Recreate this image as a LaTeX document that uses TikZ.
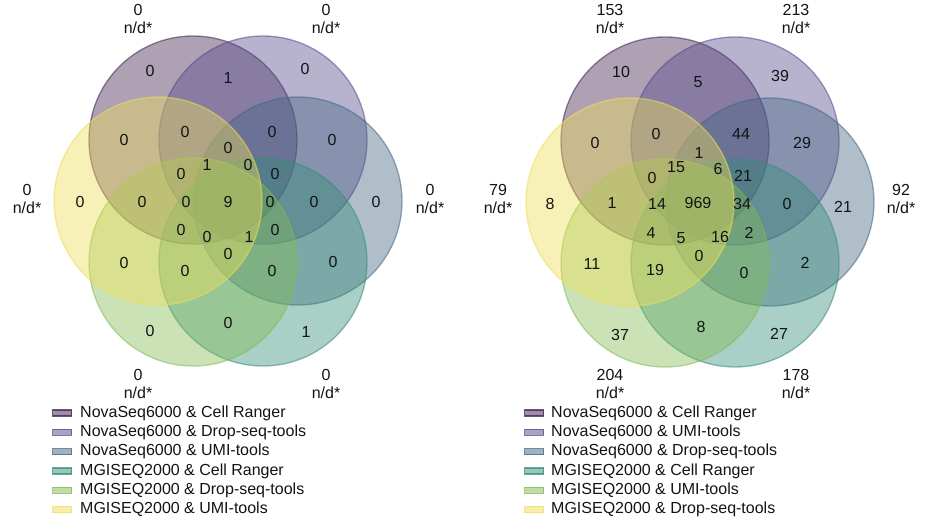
\documentclass[tikz,border=0pt]{standalone}
\usepackage{fontspec}
\setmainfont{Liberation Sans}
\definecolor{cA}{RGB}{62,32,78}
\definecolor{cB}{RGB}{84,74,140}
\definecolor{cC}{RGB}{68,102,130}
\definecolor{cD}{RGB}{52,142,120}
\definecolor{cE}{RGB}{130,186,82}
\definecolor{cF}{RGB}{238,222,88}
\definecolor{txt}{RGB}{20,20,20}
\begin{document}
\begin{tikzpicture}[x=1pt,y=-1pt,
  font=\fontsize{16}{18}\selectfont, text=txt,
  setc/.style={circle, minimum size=208pt, inner sep=0pt, fill=#1, fill opacity=0.42, draw=#1, draw opacity=0.55, line width=1.3pt},
  num/.style={inner sep=0pt},
  outl/.style={align=center, inner sep=0pt},
  sw/.style={minimum width=19pt, minimum height=6pt, inner sep=0pt, fill=#1, fill opacity=0.5, draw=#1, draw opacity=0.75, line width=1.2pt},
  leg/.style={anchor=west, inner sep=0pt}]
\useasboundingbox (0,0) rectangle (926,520);
\fill[white] (0,0) rectangle (926,520);
% ---------- left diagram ----------
\node[setc=cA] (L1) at (193,140) {};
\node[setc=cB] (L2) at (263,140) {};
\node[setc=cC] (L3) at (298,201) {};
\node[setc=cD] (L4) at (263,262) {};
\node[setc=cE] (L5) at (193,262) {};
\node[setc=cF] (L6) at (158,201) {};
\node[outl] (lo1) at (138,19) {0\\n/d*};
\node[outl] (lo2) at (326,19) {0\\n/d*};
\node[outl] (lo3) at (430,199) {0\\n/d*};
\node[outl] (lo4) at (326,384) {0\\n/d*};
\node[outl] (lo5) at (138,384) {0\\n/d*};
\node[outl] (lo6) at (27,199) {0\\n/d*};
\foreach \x/\y/\t [count=\i] in {150/71/0, 228/78/1, 305/69/0, 124/140/0, 185/132/0, 272/132/0, 332/140/0,
  228/148/0, 207/165/1, 248/165/0, 181/174/0, 275/174/0, 80/202/0, 142/202/0, 186/202/0, 228/202/9,
  270/202/0, 314/202/0, 376/202/0, 181/230/0, 207/237/0, 249/237/1, 275/230/0, 228/254/0,
  124/263/0, 185/271/0, 272/271/0, 333/262/0, 150/331/0, 228/323/0, 306/332/1}
  \node[num] (ln\i) at (\x,\y) {\t};
% ---------- right diagram ----------
\node[setc=cA] (R1) at (665,141) {};
\node[setc=cB] (R2) at (735,141) {};
\node[setc=cC] (R3) at (770,202) {};
\node[setc=cD] (R4) at (735,263) {};
\node[setc=cE] (R5) at (665,263) {};
\node[setc=cF] (R6) at (630,202) {};
\node[outl] (ro1) at (610,19) {153\\n/d*};
\node[outl] (ro2) at (796,19) {213\\n/d*};
\node[outl] (ro3) at (901,199) {92\\n/d*};
\node[outl] (ro4) at (796,384) {178\\n/d*};
\node[outl] (ro5) at (610,384) {204\\n/d*};
\node[outl] (ro6) at (498,199) {79\\n/d*};
\foreach \x/\y/\t [count=\i] in {621/72/10, 698/82/5, 780/76/39, 595/143/0, 656/134/0, 741/134/44, 802/143/29,
  699/153/1, 676/167/15, 718/169/6, 652/178/0, 743/176/21, 550/204/8, 612/203/1, 657/204/14, 698/203/969,
  742/204/34, 787/204/0, 843/207/21, 651/233/4, 681/238/5, 720/237/16, 749/233/2, 699/256/0,
  592/264/11, 655/270/19, 744/273/0, 805/263/2, 620/335/37, 701/327/8, 779/334/27}
  \node[num] (rn\i) at (\x,\y) {\t};
% ---------- legends ----------
\foreach \c/\t [count=\i] in {cA/NovaSeq6000 \& Cell Ranger, cB/NovaSeq6000 \& Drop-seq-tools,
  cC/NovaSeq6000 \& UMI-tools, cD/MGISEQ2000 \& Cell Ranger, cE/MGISEQ2000 \& Drop-seq-tools,
  cF/MGISEQ2000 \& UMI-tools}{
  \node[sw=\c] (ls\i) at (62,{413+19.3*(\i-1)}) {};
  \node[leg] (lt\i) at (80,{413+19.3*(\i-1)}) {\t};
}
\foreach \c/\t [count=\i] in {cA/NovaSeq6000 \& Cell Ranger, cB/NovaSeq6000 \& UMI-tools,
  cC/NovaSeq6000 \& Drop-seq-tools, cD/MGISEQ2000 \& Cell Ranger, cE/MGISEQ2000 \& UMI-tools,
  cF/MGISEQ2000 \& Drop-seq-tools}{
  \node[sw=\c] (rs\i) at (534,{413+19.3*(\i-1)}) {};
  \node[leg] (rt\i) at (551,{413+19.3*(\i-1)}) {\t};
}
\end{tikzpicture}
\end{document}
